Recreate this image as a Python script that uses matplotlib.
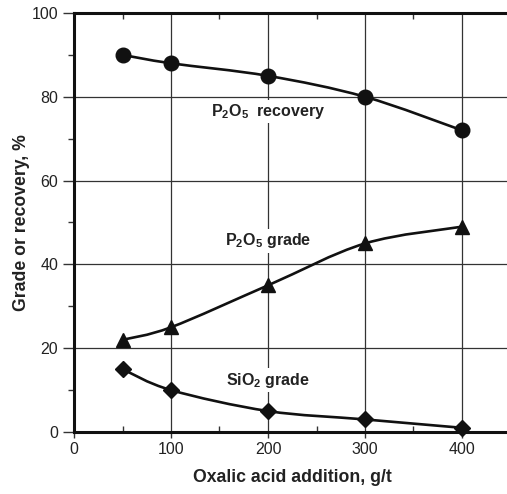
import numpy as np
import matplotlib
matplotlib.use('Agg')
import matplotlib.pyplot as plt
from matplotlib.path import Path
from matplotlib.patches import PathPatch
from matplotlib.ticker import MultipleLocator

plt.rcParams['font.family'] = ['Liberation Sans', 'DejaVu Sans']
plt.rcParams['mathtext.fontset'] = 'custom'
plt.rcParams['mathtext.rm'] = 'Liberation Sans:bold'
plt.rcParams['mathtext.it'] = 'Liberation Sans:bold'
plt.rcParams['mathtext.bf'] = 'Liberation Sans:bold'

# oxalic acid dosage, g/t
dosage = [50, 100, 200, 300, 400]
p2o5_recovery = [90, 88, 85, 80, 72]
p2o5_grade = [22, 25, 35, 45, 49]
sio2_grade = [15, 10, 5, 3, 1]


def smooth_path(xs, ys):
    # cubic bezier through the points (catmull-rom style tangents)
    pts = np.column_stack([xs, ys]).astype(float)
    n = len(pts)
    verts = [pts[0]]
    codes = [Path.MOVETO]
    for i in range(n - 1):
        p0 = pts[max(i - 1, 0)]
        p1 = pts[i]
        p2 = pts[i + 1]
        p3 = pts[min(i + 2, n - 1)]
        c1 = p1 + (p2 - p0) / 6.0
        c2 = p2 - (p3 - p1) / 6.0
        verts += [c1, c2, p2]
        codes += [Path.CURVE4] * 3
    return Path(verts, codes)


fig = plt.figure(figsize=(5.07, 4.94), dpi=100)
ax = fig.add_axes([74 / 507, 62 / 494, 436.5 / 507, 419 / 494])

series = [(p2o5_recovery, 'o', 10.5), (p2o5_grade, '^', 10), (sio2_grade, 'D', 8)]
for vals, mk, ms in series:
    ax.add_patch(PathPatch(smooth_path(dosage, vals), fill=False,
                           edgecolor='#111111', lw=1.9, zorder=3))
    ax.plot(dosage, vals, linestyle='none', marker=mk, markersize=ms,
            color='#111111', zorder=4, clip_on=False)

ax.set_xlim(0, 450)
ax.set_ylim(0, 100)
ax.xaxis.set_major_locator(MultipleLocator(100))
ax.xaxis.set_minor_locator(MultipleLocator(50))
ax.yaxis.set_major_locator(MultipleLocator(20))
ax.yaxis.set_minor_locator(MultipleLocator(10))
ax.grid(True, which='major', color='#333333', lw=0.9)
ax.set_axisbelow(True)

for s in ['left', 'bottom', 'top']:
    ax.spines[s].set_linewidth(2.2)
    ax.spines[s].set_color('#111111')
ax.spines['right'].set_visible(False)

ax.tick_params(which='both', colors='#333333', width=1,
               labelsize=11.5, labelcolor='#222222')
ax.tick_params(axis='x', which='major', direction='out', length=4)
ax.tick_params(axis='x', which='minor', direction='in', length=4, top=True)
ax.tick_params(axis='y', which='major', direction='out', length=8)
ax.tick_params(axis='y', which='minor', direction='out', length=4)

ax.set_xlabel('Oxalic acid addition, g/t', fontsize=12.7, fontweight='bold',
              color='#222222', labelpad=8)
ax.set_ylabel('Grade or recovery, %', fontsize=12.7, fontweight='bold',
              color='#222222', labelpad=1)

lbl = dict(fontsize=11.5, fontweight='bold', color='#222222',
           ha='center', va='center',
           bbox=dict(facecolor='white', edgecolor='none', pad=1.5))
ax.text(200, 76.4, r'P$_2$O$_5$  recovery', zorder=2, **lbl)
ax.text(200, 45.6, r'P$_2$O$_5$ grade', zorder=2, **lbl)
ax.text(200, 12.4, r'SiO$_2$ grade', zorder=2, **lbl)

fig.savefig('out.png', dpi=100)
